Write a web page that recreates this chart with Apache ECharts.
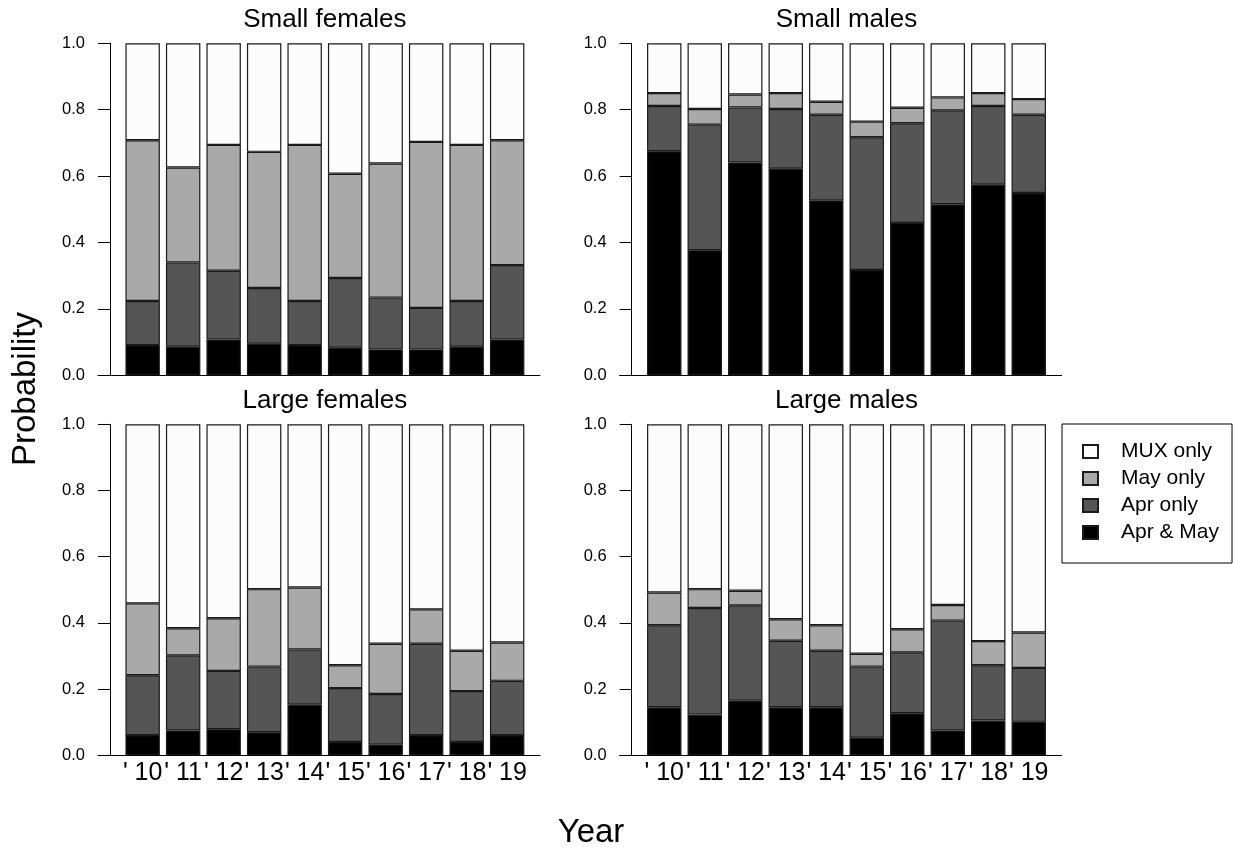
<!DOCTYPE html>
<html>
<head>
<meta charset="utf-8">
<script src="https://cdn.jsdelivr.net/npm/echarts@6/dist/echarts.min.js"></script>
<style>
  html, body { margin: 0; padding: 0; background: #ffffff; }
  #chart { width: 1233px; height: 850px; }
</style>
</head>
<body>
<div id="chart"></div>
<script>
// ---- Data ----
const years = ["' 10", "' 11", "' 12", "' 13", "' 14", "' 15", "' 16", "' 17", "' 18", "' 19"];
const yTicks = [0, 0.2, 0.4, 0.6, 0.8, 1.0];
const categoryNames = ['Apr & May', 'Apr only', 'May only', 'MUX only'];
const legendOrder = ['MUX only', 'May only', 'Apr only', 'Apr & May'];
const panelTitles = ['Small females', 'Small males', 'Large females', 'Large males'];

const smallFemalesAprMay  = [0.091, 0.086, 0.108, 0.095, 0.091, 0.083, 0.078, 0.078, 0.086, 0.108];
const smallFemalesAprOnly = [0.133, 0.254, 0.207, 0.168, 0.133, 0.210, 0.156, 0.125, 0.138, 0.224];
const smallFemalesMayOnly = [0.484, 0.286, 0.379, 0.410, 0.470, 0.314, 0.404, 0.500, 0.470, 0.376];
const smallFemalesMuxOnly = [0.292, 0.374, 0.306, 0.327, 0.306, 0.393, 0.362, 0.297, 0.306, 0.292];

const smallMalesAprMay  = [0.675, 0.377, 0.641, 0.622, 0.527, 0.317, 0.459, 0.515, 0.574, 0.549];
const smallMalesAprOnly = [0.136, 0.378, 0.166, 0.180, 0.258, 0.400, 0.300, 0.283, 0.237, 0.236];
const smallMalesMayOnly = [0.039, 0.047, 0.039, 0.048, 0.039, 0.047, 0.047, 0.039, 0.039, 0.047];
const smallMalesMuxOnly = [0.150, 0.198, 0.154, 0.150, 0.176, 0.236, 0.194, 0.163, 0.150, 0.168];

const largeFemalesAprMay  = [0.061, 0.075, 0.079, 0.070, 0.153, 0.040, 0.032, 0.061, 0.040, 0.061];
const largeFemalesAprOnly = [0.181, 0.227, 0.176, 0.198, 0.167, 0.163, 0.153, 0.276, 0.154, 0.164];
const largeFemalesMayOnly = [0.217, 0.082, 0.159, 0.234, 0.187, 0.069, 0.152, 0.104, 0.122, 0.116];
const largeFemalesMuxOnly = [0.541, 0.616, 0.586, 0.498, 0.493, 0.728, 0.663, 0.559, 0.684, 0.659];

const largeMalesAprMay  = [0.145, 0.123, 0.165, 0.145, 0.145, 0.053, 0.127, 0.075, 0.105, 0.101];
const largeMalesAprOnly = [0.248, 0.322, 0.288, 0.201, 0.171, 0.215, 0.184, 0.332, 0.167, 0.163];
const largeMalesMayOnly = [0.099, 0.057, 0.044, 0.065, 0.077, 0.039, 0.070, 0.047, 0.073, 0.107];
const largeMalesMuxOnly = [0.508, 0.498, 0.503, 0.589, 0.607, 0.693, 0.619, 0.546, 0.655, 0.629];

// ---- Build ----
const panelData = [
  [smallFemalesAprMay, smallFemalesAprOnly, smallFemalesMayOnly, smallFemalesMuxOnly],
  [smallMalesAprMay, smallMalesAprOnly, smallMalesMayOnly, smallMalesMuxOnly],
  [largeFemalesAprMay, largeFemalesAprOnly, largeFemalesMayOnly, largeFemalesMuxOnly],
  [largeMalesAprMay, largeMalesAprOnly, largeMalesMayOnly, largeMalesMuxOnly]
];

const FONT = '"Liberation Sans", Arial, Helvetica, sans-serif';
const fills = { 'Apr & May': '#000000', 'Apr only': '#555555', 'May only': '#a9a9a9', 'MUX only': '#fcfcfc' };

const layout = [
  { left: 122.4, top: 43.3, height: 332 },
  { left: 644.0, top: 43.3, height: 332 },
  { left: 122.4, top: 424.3, height: 331 },
  { left: 644.0, top: 424.3, height: 331 }
];
const gridW = 405;

const grids = [], xAxes = [], yAxes = [], series = [], titles = [];

layout.forEach((L, i) => {
  grids.push({ left: L.left, top: L.top, width: gridW, height: L.height, containLabel: false });
  xAxes.push({
    gridIndex: i, type: 'category', data: years,
    axisLine: { show: false }, axisTick: { show: false },
    axisLabel: { show: i >= 2, interval: 0, margin: 5, color: '#000', fontSize: 25, fontFamily: FONT }
  });
  yAxes.push({
    gridIndex: i, type: 'value', min: 0, max: 1, interval: 0.2, offset: 12.4,
    axisLine: { show: true, lineStyle: { color: '#000', width: 1 } },
    axisTick: { show: true, length: 12, lineStyle: { color: '#000', width: 1 } },
    axisLabel: { margin: 25, color: '#000', fontSize: 16.5, fontFamily: FONT,
      formatter: v => yTicks.some(t => Math.abs(t - v) < 1e-9) ? v.toFixed(1) : '' },
    splitLine: { show: false }
  });
  titles.push({
    text: panelTitles[i], left: L.left + gridW / 2, textAlign: 'center',
    top: i < 2 ? 7 : 388, padding: 0,
    textStyle: { fontSize: 26, fontWeight: 'normal', color: '#000', fontFamily: FONT }
  });
  categoryNames.forEach((name, k) => {
    series.push({
      type: 'bar', name: name, xAxisIndex: i, yAxisIndex: i, stack: 'panel' + i,
      barCategoryGap: '15%',
      data: panelData[i][k],
      itemStyle: { color: fills[name], borderColor: '#1a1a1a', borderWidth: 1.2 },
      emphasis: { disabled: true },
      animation: false
    });
  });
});

// baseline frame grids (wider horizontal axis line under each panel)
layout.forEach((L, i) => {
  const gi = grids.length;
  grids.push({ left: L.left - 24.4, top: L.top, width: 442, height: L.height });
  xAxes.push({ gridIndex: gi, type: 'value', min: 0, max: 1, axisLine: { show: true, onZero: false, lineStyle: { color: '#000', width: 1 } },
    axisTick: { show: false }, axisLabel: { show: false }, splitLine: { show: false } });
  yAxes.push({ gridIndex: gi, type: 'value', min: 0, max: 1, show: false });
});

const option = {
  backgroundColor: '#ffffff',
  animation: false,
  title: titles,
  grid: grids,
  xAxis: xAxes,
  yAxis: yAxes,
  series: series,
  legend: {
    data: legendOrder,
    orient: 'vertical',
    left: 1062, top: 424,
    padding: [17, 13, 20, 20],
    borderColor: '#000', borderWidth: 1,
    itemWidth: 15, itemHeight: 13, itemGap: 6,
    icon: 'rect',
    selectedMode: false,
    textStyle: { fontSize: 21, lineHeight: 21, color: '#000', fontFamily: FONT, padding: [0, 0, 0, 18] }
  },
  graphic: [
    { type: 'text', x: 26, y: 389, rotation: Math.PI / 2,
      style: { text: 'Probability', font: '33px ' + FONT, fill: '#000', align: 'center', verticalAlign: 'middle', textAlign: 'center', textVerticalAlign: 'middle' } },
    { type: 'text', x: 591, y: 833,
      style: { text: 'Year', font: '33px ' + FONT, fill: '#000', align: 'center', verticalAlign: 'middle', textAlign: 'center', textVerticalAlign: 'middle' } }
  ]
};

const chart = echarts.init(document.getElementById('chart'), null, { renderer: 'canvas' });
chart.setOption(option);
</script>
</body>
</html>
